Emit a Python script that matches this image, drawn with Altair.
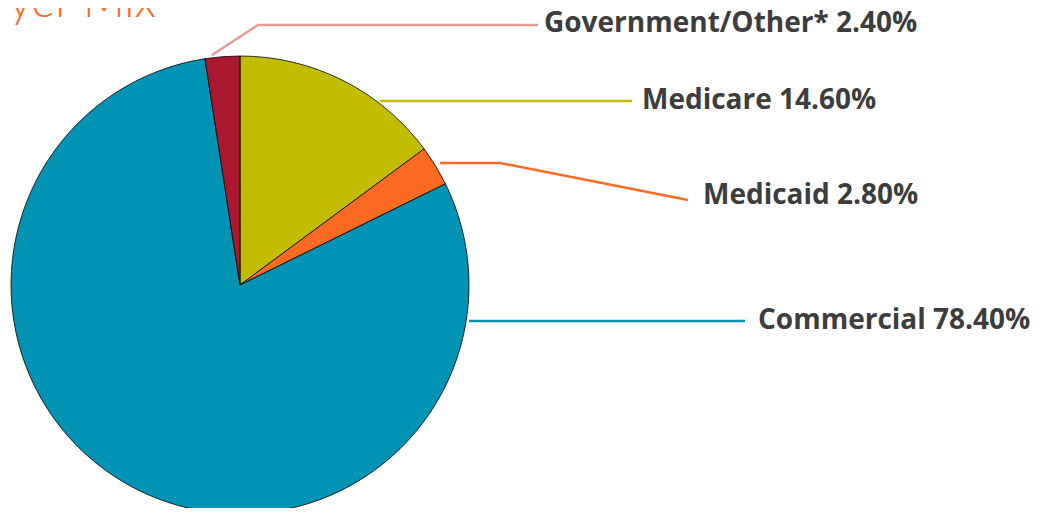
import altair as alt
import pandas as pd

# ---- data ----
payers = ["Medicare", "Medicaid", "Commercial", "Government/Other*"]
shares = [14.60, 2.80, 78.40, 2.40]
label_texts = ["Medicare 14.60%", "Medicaid 2.80%", "Commercial 78.40%", "Government/Other* 2.40%"]

# ---- styles ----
fill_colors = ["#C2BD00", "#FF6A22", "#0093B4", "#AA172F"]
line_colors = ["#C2BD00", "#FF6A22", "#0093B4", "#E59A95"]
TITLE_COLOR = "#FF6A22"
TEXT_COLOR = "#3D3D3D"

# ---- layout (svg pixel coordinates) ----
W, H = 1026, 500
M = 8  # page margin
CX, CY, R = 240 - M, 285 - M, 229
leader_pts = [
    [(380, 101), (632, 101)],
    [(440, 163), (500, 163), (688, 200)],
    [(469, 321), (745, 321)],
    [(212, 55), (258, 25), (538, 25)],
]
label_pos = [(642, 101), (703, 196), (758, 321), (544, 24)]

pie_df = pd.DataFrame({
    "payer": payers,
    "share": shares,
    "order": list(range(len(payers))),
    "fill": fill_colors,
})

rows = []
for i, pts in enumerate(leader_pts):
    for j, (px, py) in enumerate(pts):
        rows.append({"payer": payers[i], "k": j, "x": px - M, "y": py - M, "lc": line_colors[i]})
line_df = pd.DataFrame(rows)

lab_df = pd.DataFrame({
    "label": label_texts,
    "x": [p[0] - M for p in label_pos],
    "y": [p[1] - M for p in label_pos],
})

title_df = pd.DataFrame({"t": ["Payer Mix"], "x": [-47], "y": [17 - M]})

xs = alt.Scale(domain=[0, W], nice=False, zero=False)
ys = alt.Scale(domain=[0, H], nice=False, zero=False, reverse=True)

pie = alt.Chart(pie_df).mark_arc(
    outerRadius=R, stroke="black", strokeWidth=0.8
).encode(
    theta=alt.Theta("share:Q", stack=True),
    color=alt.Color("fill:N", scale=None),
    order=alt.Order("order:Q"),
    x=alt.value(CX),
    y=alt.value(CY),
)

lines = alt.Chart(line_df).mark_line(strokeWidth=2.4).encode(
    x=alt.X("x:Q", scale=xs, axis=None),
    y=alt.Y("y:Q", scale=ys, axis=None),
    detail="payer:N",
    order="k:Q",
    stroke=alt.Stroke("lc:N", scale=None),
)

labels = alt.Chart(lab_df).mark_text(
    align="left", baseline="middle", font="Open Sans", fontWeight="bold",
    fontSize=28, color=TEXT_COLOR
).encode(
    x=alt.X("x:Q", scale=xs, axis=None),
    y=alt.Y("y:Q", scale=ys, axis=None),
    text="label:N",
)

title = alt.Chart(title_df).mark_text(
    align="left", baseline="alphabetic", font="Lato", fontWeight=300,
    fontSize=46, color=TITLE_COLOR
).encode(
    x=alt.X("x:Q", scale=xs, axis=None),
    y=alt.Y("y:Q", scale=ys, axis=None),
    text="t:N",
)

chart = alt.layer(pie, lines, labels, title).properties(
    width=W, height=H, padding=0, autosize=alt.AutoSizeParams(type="none"),
).configure_view(stroke=None)

chart.save("out.html", embed_options={"renderer": "svg", "actions": False})
